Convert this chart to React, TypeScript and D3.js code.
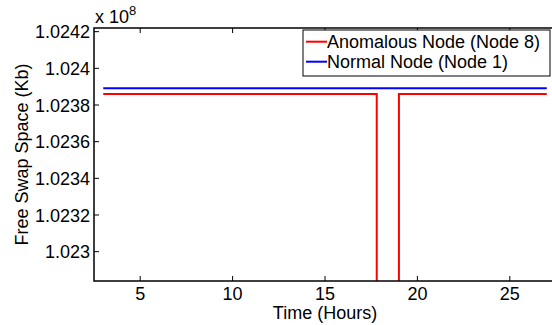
import {useEffect, useRef} from 'react';
import * as d3 from 'd3';

// Hours and free swap (Kb)
const anomalousHours = [3, 17.8, 17.8, 19, 19, 27];
const anomalousSwap = [102386000, 102386000, 102150000, 102150000, 102386000, 102386000];
const normalHours = [3, 27];
const normalSwap = [102389100, 102389100];

const xTicks = [5, 10, 15, 20, 25];
const yTicks = [102300000, 102320000, 102340000, 102360000, 102380000, 102400000, 102420000];
const seriesNames = ['Anomalous Node (Node 8)', 'Normal Node (Node 1)'];
const seriesColors = ['#ff0000', '#0000ff'];

const width = 552;
const height = 325;
const margin = {left: 94, top: 28, right: -4, bottom: 44};
const font = '"Liberation Sans", Arial, sans-serif';

export default function App() {
    const svgRef = useRef<SVGSVGElement>(null);

    useEffect(() => {
        const svg = d3.select(svgRef.current);
        svg.selectAll('*').remove();

        const x0 = margin.left, x1 = width - margin.right;
        const y0 = height - margin.bottom, y1 = margin.top;

        const x = d3.scaleLinear().domain([2.5, 27.5]).range([x0, x1]);
        const y = d3.scaleLinear().domain([102284000, 102422000]).range([y0, y1]);

        svg.append('clipPath').attr('id', 'plotclip')
            .append('rect')
            .attr('x', x0).attr('y', y1)
            .attr('width', x1 - x0).attr('height', y0 - y1);

        const line = d3.line<[number, number]>()
            .x(d => x(d[0]))
            .y(d => y(d[1]));

        const series = [
            d3.zip(anomalousHours, anomalousSwap) as [number, number][],
            d3.zip(normalHours, normalSwap) as [number, number][],
        ];

        const plot = svg.append('g').attr('clip-path', 'url(#plotclip)');
        series.forEach((s, i) => {
            plot.append('path')
                .attr('d', line(s))
                .attr('fill', 'none')
                .attr('stroke', seriesColors[i])
                .attr('stroke-width', 2);
        });

        // axes box
        svg.append('rect')
            .attr('x', x0).attr('y', y1)
            .attr('width', x1 - x0).attr('height', y0 - y1)
            .attr('fill', 'none')
            .attr('stroke', '#000')
            .attr('stroke-width', 1.5);

        const tickLen = 5;
        xTicks.forEach(t => {
            const px = x(t);
            svg.append('line').attr('x1', px).attr('x2', px).attr('y1', y0).attr('y2', y0 - tickLen)
                .attr('stroke', '#000').attr('stroke-width', 1);
            svg.append('line').attr('x1', px).attr('x2', px).attr('y1', y1).attr('y2', y1 + tickLen)
                .attr('stroke', '#000').attr('stroke-width', 1);
            svg.append('text')
                .attr('x', px).attr('y', y0 + 18.5)
                .attr('text-anchor', 'middle')
                .style('font', `18px ${font}`)
                .text(t);
        });

        yTicks.forEach(t => {
            const py = y(t);
            svg.append('line').attr('x1', x0).attr('x2', x0 + tickLen).attr('y1', py).attr('y2', py)
                .attr('stroke', '#000').attr('stroke-width', 1);
            svg.append('text')
                .attr('x', x0 - 4).attr('y', py + 6.5)
                .attr('text-anchor', 'end')
                .style('font', `18px ${font}`)
                .text(+(t / 1e8).toFixed(4));
        });

        // exponent
        const expo = svg.append('text')
            .attr('x', x0 + 1).attr('y', 23)
            .style('font', `18px ${font}`);
        expo.append('tspan').text('x 10');
        expo.append('tspan').attr('dy', -8).style('font-size', '13px').text('8');

        // axis labels
        svg.append('text')
            .attr('x', 325).attr('y', 319)
            .attr('text-anchor', 'middle')
            .style('font', `18px ${font}`)
            .text('Time (Hours)');

        svg.append('text')
            .attr('transform', `translate(28,${(y0 + y1) / 2}) rotate(-90)`)
            .attr('text-anchor', 'middle')
            .style('font', `18px ${font}`)
            .text('Free Swap Space (Kb)');

        // legend
        const legend = svg.append('g').attr('transform', 'translate(303,30)');
        legend.append('rect')
            .attr('width', 247).attr('height', 46)
            .attr('fill', '#fff')
            .attr('stroke', '#000')
            .attr('stroke-width', 1);
        seriesNames.forEach((name, i) => {
            const row = legend.append('g').attr('transform', `translate(0,${11.7 + i * 20})`);
            row.append('line')
                .attr('x1', 3).attr('x2', 24)
                .attr('stroke', seriesColors[i]).attr('stroke-width', 2);
            row.append('text')
                .attr('x', 24).attr('y', 6)
                .style('font', `18px ${font}`)
                .text(name);
        });
    }, []);

    return (
        <svg ref={svgRef} width={width} height={height}
             style={{position: 'absolute', left: 0, top: 0, background: '#fff'}}/>
    );
}
